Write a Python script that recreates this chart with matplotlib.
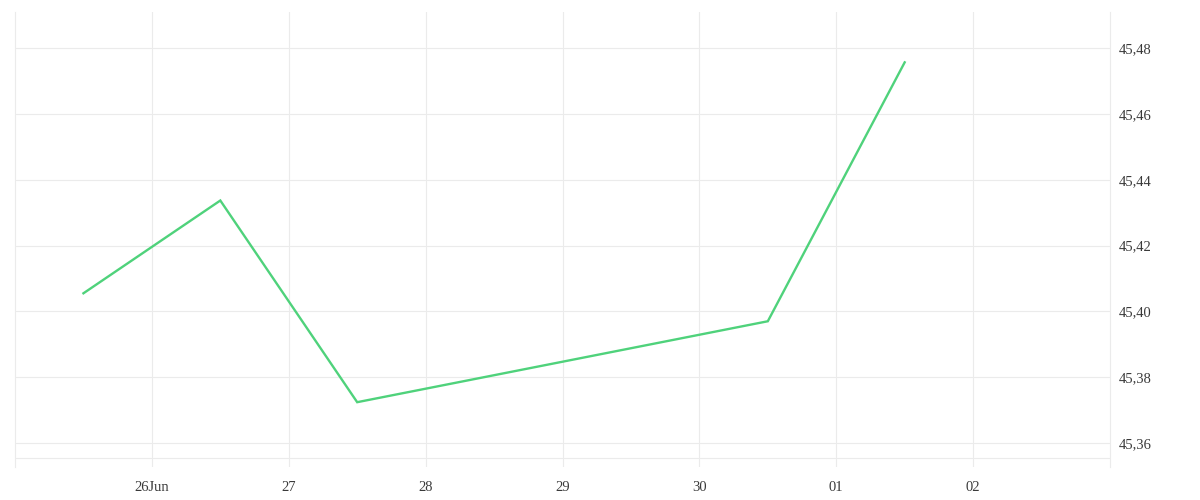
#!/usr/bin/env python
'''
Line chart of a price series over a week, right hand value axis.
'''
import datetime as dt
import matplotlib
matplotlib.use('Agg')
import matplotlib.pyplot as plt
import matplotlib.dates as mdates

# data
times = [dt.datetime(2024, 6, 25, 12), dt.datetime(2024, 6, 26, 12),
         dt.datetime(2024, 6, 27, 12), dt.datetime(2024, 6, 30, 12),
         dt.datetime(2024, 7, 1, 12)]
values = [45.4055, 45.4337, 45.3724, 45.3970, 45.4757]

tick_days = [dt.datetime(2024, 6, 26), dt.datetime(2024, 6, 27),
             dt.datetime(2024, 6, 28), dt.datetime(2024, 6, 29),
             dt.datetime(2024, 6, 30), dt.datetime(2024, 7, 1),
             dt.datetime(2024, 7, 2)]
tick_day_labels = ['26Jun', '27', '28', '29', '30', '01', '02']
value_ticks = [45.36, 45.38, 45.40, 45.42, 45.44, 45.46, 45.48]

LINE_COLOUR = '#4fd27b'
GRID_COLOUR = '#ebebeb'
TEXT_COLOUR = '#3a3a3a'

plt.rcParams['font.family'] = ['Liberation Serif', 'DejaVu Serif']

fig = plt.figure(figsize=(12, 5), dpi=100)
axis = fig.add_axes([0.0125, 0.066, 0.9125, 0.91])

axis.plot(times, values, color=LINE_COLOUR, linewidth=1.7,
          solid_joinstyle='miter', zorder=3)

axis.set_xlim(dt.datetime(2024, 6, 25), dt.datetime(2024, 7, 3))
axis.set_ylim(45.3527, 45.4910)

axis.set_xticks([mdates.date2num(d) for d in tick_days])
axis.set_xticklabels(tick_day_labels)
axis.set_yticks(value_ticks)
# comma decimal separator as in the original
axis.set_yticklabels([('%.2f' % v).replace('.', ',') for v in value_ticks])

axis.yaxis.tick_right()
axis.grid(True, color=GRID_COLOUR, linewidth=0.8)
axis.axhline(45.3554, color=GRID_COLOUR, linewidth=0.8)
axis.tick_params(axis='both', length=0, colors=TEXT_COLOUR, labelsize=10.5)
axis.tick_params(axis='x', pad=10)
axis.tick_params(axis='y', pad=6)

for side in ('top', 'bottom'):
    axis.spines[side].set_visible(False)
for side in ('left', 'right'):
    axis.spines[side].set_color(GRID_COLOUR)
    axis.spines[side].set_linewidth(0.8)

fig.savefig('out.png', dpi=100, facecolor='white')
